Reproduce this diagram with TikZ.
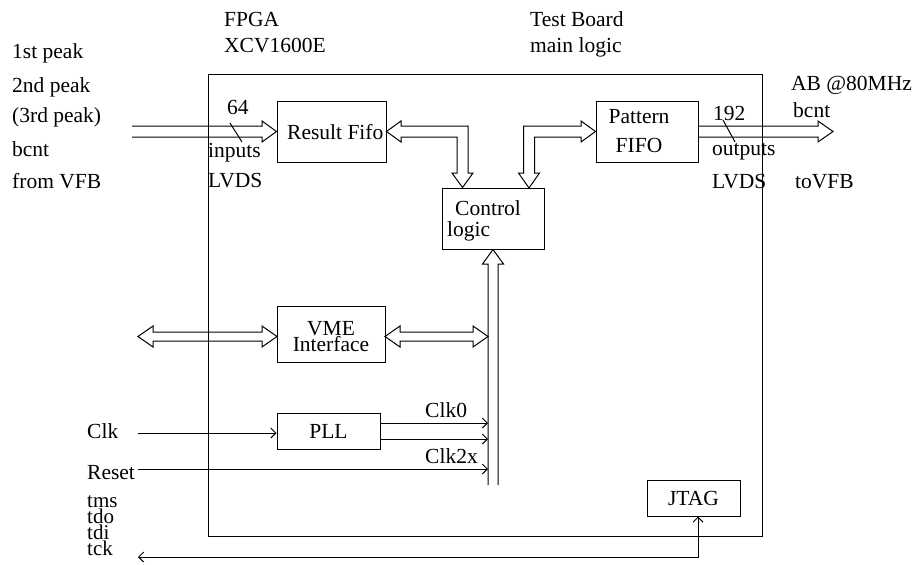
\documentclass[tikz,border=0pt]{standalone}
\usepackage{fontspec}
\setmainfont{Liberation Serif}
\usetikzlibrary{arrows.meta,calc}
\tikzset{
  every node/.style={font=\fontsize{21.5}{24}\selectfont, inner sep=0pt},
  txt/.style={anchor=base west},
  boxed/.style={draw, line width=1pt},
  bus/.style={draw, line width=1pt, line join=miter},
  sig/.style={draw, line width=1pt, -{Straight Barb[length=5pt,width=10pt]}},
}
\begin{document}
\begin{tikzpicture}[x=1pt,y=-1pt]
\useasboundingbox (0,0) rectangle (919,565);
% FPGA outline
\node[boxed, minimum width=554pt, minimum height=462pt, anchor=north west] (fpga) at (208,74) {};
% blocks
\node[boxed, minimum width=109pt, minimum height=61pt] (rf) at (331.5,131.5) {};
\node[txt] (rft) at (287,139) {Result Fifo};
\node[boxed, minimum width=102pt, minimum height=61pt] (pf) at (647,131.5) {};
\node[anchor=base, align=center, font=\fontsize{21.5}{29}\selectfont] (pft) at (639,152) {Pattern\\FIFO};
\node[boxed, minimum width=102pt, minimum height=61pt] (cl) at (493,218.5) {};
\node[txt] (clt1) at (455,215) {Control};
\node[txt] (clt2) at (447,236) {logic};
\node[boxed, minimum width=108pt, minimum height=56pt] (vme) at (331,334) {};
\node[anchor=base, align=center, font=\fontsize{21.5}{15.5}\selectfont] (vmet) at (331,351) {VME\\Interface};
\node[boxed, minimum width=103pt, minimum height=36pt] (pll) at (328.5,431) {PLL};
\node[boxed, minimum width=93pt, minimum height=36pt] (jtag) at (693.5,498) {JTAG};
% labels
\node[txt] (l1) at (12,58) {1st peak};
\node[txt] (l2) at (12,92) {2nd peak};
\node[txt] (l3) at (12,122) {(3rd peak)};
\node[txt] (l4) at (12,156) {bcnt};
\node[txt] (l5) at (12,188) {from VFB};
\node[txt] (t1) at (224,26) {FPGA};
\node[txt] (t2) at (224,52) {XCV1600E};
\node[txt] (t3) at (530,26) {Test Board};
\node[txt] (t4) at (530,52) {main logic};
\node[txt] (r1) at (791,90) {AB @80MHz};
\node[txt] (r2) at (793,117) {bcnt};
\node[txt] (r3) at (795,188) {toVFB};
\node[txt] (n64) at (227,114) {64};
\node[txt] (in1) at (208,157) {inputs};
\node[txt] (in2) at (208,187) {LVDS};
\node[txt] (n192) at (713,120) {192};
\node[txt] (out1) at (712,155) {outputs};
\node[txt] (out2) at (712,188) {LVDS};
\node[txt] (clk) at (87,438) {Clk};
\node[txt] (rst) at (87,479) {Reset};
\node[anchor=base west, align=left, font=\fontsize{21}{16}\selectfont] (jt) at (87,555) {tms\\tdo\\tdi\\tck};
\node[txt] (c0) at (425,417) {Clk0};
\node[txt] (c2) at (425,463) {Clk2x};
% hollow buses
\draw[bus] (132,126) -- (262,126) -- (262,121) -- (rf.west) -- (262,142) -- (262,137) -- (132,137);
\draw[bus] (rf.east) -- (401,121) -- (401,126) -- (468,126) -- (468,173) -- (473,173)
  -- (cl.north -| 462.5,0) -- (452,173) -- (457,173) -- (457,137) -- (401,137) -- (401,142) -- cycle;
\draw[bus] (529,188) -- (518.5,173) -- (523.5,173) -- (523.5,126) -- (581,126) -- (581,121)
  -- (pf.west) -- (581,142) -- (581,137) -- (534.5,137) -- (534.5,173) -- (539.5,173) -- cycle;
\draw[bus] (pf.east |- 0,126) -- (818,126) -- (818,121) -- (833,131.5) -- (818,142) -- (818,137) -- (pf.east |- 0,137);
\draw[bus] (488,485) -- (488,264) -- (482.5,264) -- (cl.south) -- (503.5,264) -- (498,264) -- (498,485);
\draw[bus] (138,336.5) -- (153,326) -- (153,332) -- (262,332) -- (262,326) -- (277,336.5)
  -- (262,347) -- (262,341) -- (153,341) -- (153,347) -- cycle;
\draw[bus] (385,336.5) -- (400,326) -- (400,332) -- (473,332) -- (473,326) -- (488,336.5)
  -- (473,347) -- (473,341) -- (400,341) -- (400,347) -- cycle;
% width marks
\draw[line width=1pt] (230,123) -- (242,142);
\draw[line width=1pt] (723,120) -- (735,142);
% signals
\coordinate (clkS) at (138,433);
\coordinate (rstS) at (138,469);
\coordinate (tckE) at (138,557);
\draw[sig] (clkS) -- (pll.west |- clkS);
\draw[sig] (pll.east |- 0,423) -- (488,423);
\draw[sig] (pll.east |- 0,439) -- (488,439);
\draw[sig] (rstS) -- (488,469);
\draw[sig, {Straight Barb[length=5pt,width=10pt]}-{Straight Barb[length=5pt,width=10pt]}] (tckE) -- (698,557) -- (jtag.south -| 698,0);
\end{tikzpicture}
\end{document}
